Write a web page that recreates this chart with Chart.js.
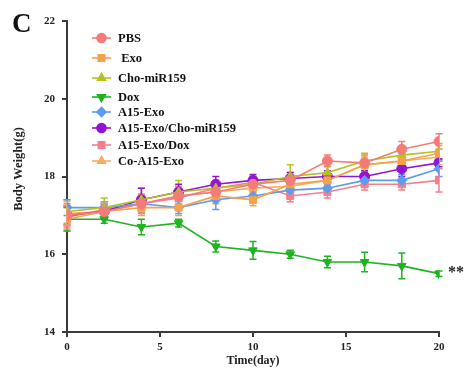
<!DOCTYPE html>
<html><head><meta charset="utf-8">
<script src="https://cdn.jsdelivr.net/npm/chart.js@4.4.0/dist/chart.umd.min.js"></script>
<style>html,body{margin:0;padding:0;background:#fff;}#wrap{width:476px;height:372px;position:relative;}</style>
</head><body><div id="wrap"><canvas id="c" width="476" height="372"></canvas></div>
<script>
const days = [0, 2, 4, 6, 8, 10, 12, 14, 16, 18, 20];
const seriesNames = ['PBS', ' Exo', 'Cho-miR159', 'Dox', 'A15-Exo', 'A15-Exo/Cho-miR159', 'A15-Exo/Dox', 'Co-A15-Exo'];
const pbs      = [17.0, 17.1, 17.3, 17.5, 17.6, 17.8, 17.9, 18.4, 18.35, 18.7, 18.9];
const exo      = [16.9, 17.1, 17.2, 17.2, 17.5, 17.4, 17.8, 17.9, 18.3, 18.4, 18.6];
const choMiR   = [17.1, 17.2, 17.4, 17.6, 17.7, 17.8, 18.0, 18.1, 18.4, 18.55, 18.65];
const dox      = [16.9, 16.9, 16.7, 16.8, 16.2, 16.1, 16.0, 15.8, 15.8, 15.7, 15.5];
const a15Exo   = [17.2, 17.2, 17.3, 17.2, 17.4, 17.5, 17.65, 17.7, 17.9, 17.9, 18.2];
const a15Cho   = [17.0, 17.1, 17.4, 17.6, 17.8, 17.9, 17.95, 18.0, 18.0, 18.2, 18.35];
const a15Dox   = [16.95, 17.15, 17.3, 17.45, 17.7, 17.85, 17.5, 17.6, 17.8, 17.8, 17.9];
const coA15    = [17.05, 17.1, 17.3, 17.5, 17.6, 17.7, 17.75, 17.9, 18.3, 18.4, 18.5];
const pbsErr    = [0.3, 0.2, 0.25, 0.25, 0.2, 0.2, 0.2, 0.15, 0.2, 0.2, 0.2];
const exoErr    = [0.3, 0.2, 0.2, 0.2, 0.2, 0.15, 0.2, 0.15, 0.15, 0.2, 0.2];
const choErr    = [0.3, 0.25, 0.3, 0.3, 0.2, 0.2, 0.3, 0.2, 0.2, 0.2, 0.2];
const doxErr    = [0.3, 0.1, 0.2, 0.1, 0.14, 0.23, 0.1, 0.15, 0.25, 0.33, 0.07];
const a15ExoErr = [0.2, 0.15, 0.2, 0.15, 0.25, 0.15, 0.15, 0.1, 0.15, 0.15, 0.2];
const a15ChoErr = [0.25, 0.2, 0.3, 0.2, 0.2, 0.15, 0.15, 0.15, 0.15, 0.2, 0.1];
const a15DoxErr = [0.3, 0.2, 0.2, 0.2, 0.15, 0.15, 0.15, 0.15, 0.15, 0.15, 0.3];
const coA15Err  = [0.3, 0.2, 0.2, 0.2, 0.2, 0.2, 0.2, 0.2, 0.2, 0.2, 0.2];
const yTicks = [14, 16, 18, 20, 22];
const xTicks = [0, 5, 10, 15, 20];

const FONT = "'Liberation Serif','Times New Roman',serif";
const defs = [
  {data: pbs, err: pbsErr, color: '#f47c78', style: 'circle', rot: 0},
  {data: exo, err: exoErr, color: '#f5a24a', style: 'rect', rot: 0},
  {data: choMiR, err: choErr, color: '#b5c21f', style: 'triangle', rot: 0},
  {data: dox, err: doxErr, color: '#1fb41f', style: 'triangle', rot: 180},
  {data: a15Exo, err: a15ExoErr, color: '#5b9cf0', style: 'rectRot', rot: 0},
  {data: a15Cho, err: a15ChoErr, color: '#9514d4', style: 'circle', rot: 0},
  {data: a15Dox, err: a15DoxErr, color: '#f27f8b', style: 'rect', rot: 0},
  {data: coA15, err: coA15Err, color: '#f6ad60', style: 'triangle', rot: 0}
];

const datasets = defs.map((d, i) => ({
  label: seriesNames[i],
  data: days.map((x, j) => ({x: x, y: d.data[j]})),
  errors: d.err,
  borderColor: d.color,
  backgroundColor: d.color,
  borderWidth: 1.6,
  pointStyle: d.style,
  pointRotation: d.rot,
  pointRadius: 5,
  pointBorderWidth: 1,
  pointBorderColor: d.color,
  pointBackgroundColor: d.color,
  tension: 0,
  fill: false
}));

const errorBars = {
  id: 'errorBars',
  beforeDatasetsDraw(chart) {
    const ctx = chart.ctx, xs = chart.scales.x, ys = chart.scales.y;
    chart.data.datasets.forEach((ds) => {
      ctx.save();
      ctx.strokeStyle = ds.borderColor;
      ctx.lineWidth = 1.5;
      ds.data.forEach((p, j) => {
        const e = ds.errors[j];
        const px = xs.getPixelForValue(p.x);
        const y1 = ys.getPixelForValue(p.y + e), y2 = ys.getPixelForValue(p.y - e);
        ctx.beginPath();
        ctx.moveTo(px, y1); ctx.lineTo(px, y2);
        ctx.moveTo(px - 3.5, y1); ctx.lineTo(px + 3.5, y1);
        ctx.moveTo(px - 3.5, y2); ctx.lineTo(px + 3.5, y2);
        ctx.stroke();
      });
      ctx.restore();
    });
  }
};

const legendRows = [38, 58, 78, 97, 112, 128, 145, 161];
const extras = {
  id: 'extras',
  afterDraw(chart) {
    const ctx = chart.ctx;
    ctx.save();
    // panel letter
    ctx.fillStyle = '#111';
    ctx.font = 'bold 27px ' + FONT;
    ctx.textBaseline = 'alphabetic';
    ctx.fillText('C', 12, 32);
    // y axis title
    ctx.save();
    ctx.translate(19, 169);
    ctx.rotate(-Math.PI / 2);
    ctx.font = 'bold 12.5px ' + FONT;
    ctx.fillStyle = '#222';
    ctx.textAlign = 'center';
    ctx.textBaseline = 'middle';
    ctx.fillText('Body Weight(g)', 0, 0);
    ctx.restore();
    // legend
    chart.data.datasets.forEach((ds, i) => {
      const y = legendRows[i];
      ctx.strokeStyle = ds.borderColor;
      ctx.lineWidth = 1.6;
      ctx.beginPath(); ctx.moveTo(92, y); ctx.lineTo(111, y); ctx.stroke();
      ctx.fillStyle = ds.backgroundColor;
      Chart.helpers.drawPoint(ctx, {pointStyle: ds.pointStyle, radius: 4.5, rotation: ds.pointRotation, borderWidth: 1}, 101.5, y);
      ctx.fillStyle = '#111';
      ctx.font = 'bold 12.5px ' + FONT;
      ctx.textBaseline = 'middle';
      ctx.fillText(ds.label, 118, y + 1);
    });
    // significance stars next to last Dox point
    const meta = chart.getDatasetMeta(3);
    const last = meta.data[meta.data.length - 1];
    ctx.fillStyle = '#222';
    ctx.font = 'bold 16px ' + FONT;
    ctx.textBaseline = 'middle';
    ctx.fillText('**', last.x + 9, last.y - 1);
    ctx.restore();
  }
};

new Chart(document.getElementById('c'), {
  type: 'line',
  data: {datasets: datasets},
  plugins: [errorBars, extras],
  options: {
    responsive: false,
    animation: false,
    layout: {padding: {left: 0, right: 37, top: 21, bottom: 0}},
    plugins: {legend: {display: false}, tooltip: {enabled: false}},
    scales: {
      x: {
        type: 'linear', min: 0, max: 20,
        afterBuildTicks(s) { s.ticks = xTicks.map(v => ({value: v})); },
        afterFit(s) { s.height = 40; },
        border: {display: true, color: '#3a3a3a', width: 2},
        grid: {display: true, drawOnChartArea: false, drawTicks: true, tickLength: 5, color: '#3a3a3a', lineWidth: 2},
        ticks: {color: '#222', font: {family: FONT, size: 11, weight: 'bold'}, padding: 4, maxRotation: 0},
        title: {display: true, text: 'Time(day)', color: '#222', font: {family: FONT, size: 12, weight: 'bold'}, padding: {top: 0, bottom: 4}}
      },
      y: {
        type: 'linear', min: 14, max: 22,
        afterBuildTicks(s) { s.ticks = yTicks.map(v => ({value: v})); },
        afterFit(s) { s.width = 67; },
        border: {display: true, color: '#3a3a3a', width: 2},
        grid: {display: true, drawOnChartArea: false, drawTicks: true, tickLength: 5, color: '#3a3a3a', lineWidth: 2},
        ticks: {color: '#222', font: {family: FONT, size: 11, weight: 'bold'}, padding: 7},
        title: {display: false}
      }
    }
  }
});
</script></body></html>
